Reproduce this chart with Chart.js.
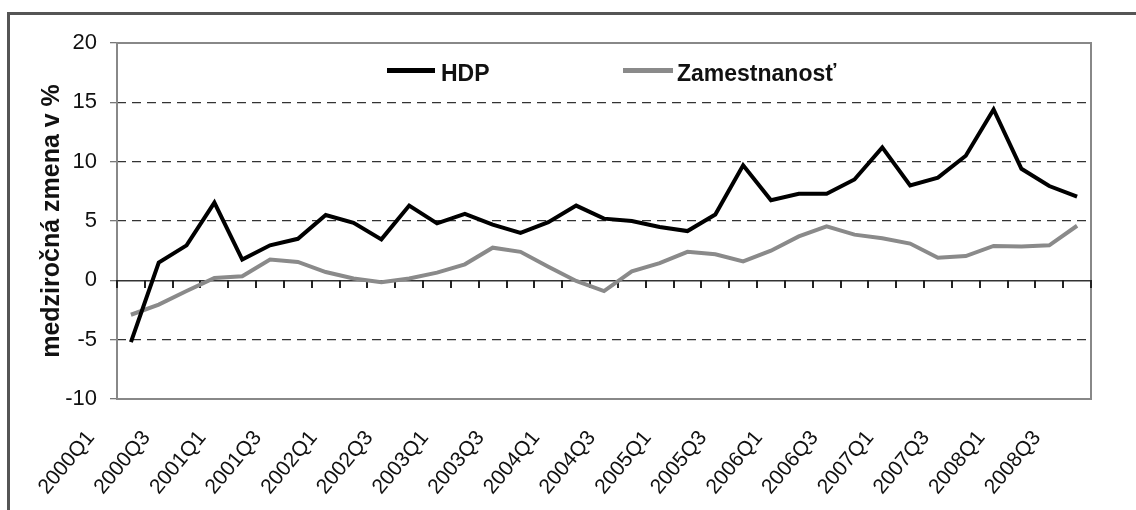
<!DOCTYPE html>
<html>
<head>
<meta charset="utf-8">
<script src="https://cdn.jsdelivr.net/npm/chart.js@4.4.1/dist/chart.umd.min.js"></script>
<style>
    html, body { margin: 0; padding: 0; background: #fff; overflow: hidden; }
    #wrap { position: relative; width: 1136px; height: 510px; }
    #frame { position: absolute; left: 7px; top: 12px; width: 1160px; height: 520px;
             border-left: 3px solid #555; border-top: 3px solid #555; box-sizing: border-box; }
    #chart { position: absolute; left: 0; top: 0; }
    .key { position: absolute; height: 5px; }
    .keyText { position: absolute; font: bold 23px "Liberation Sans", Arial, sans-serif;
               line-height: 23px; color: #111; white-space: nowrap; }
</style>
</head>
<body>
<div id="wrap">
    <div id="frame"></div>
    <canvas id="chart" width="1136" height="510"></canvas>
    <div class="key" id="keyHdp" style="left:387px;top:68px;width:48px;background:#000;"></div>
    <div class="keyText" id="labelHdp" style="left:441px;top:62px;"></div>
    <div class="key" id="keyEmp" style="left:623px;top:68px;width:50px;background:#8a8a8a;"></div>
    <div class="keyText" id="labelEmp" style="left:677px;top:62px;"></div>
</div>
<script>
// === Data ===
const quarters = [
    "2000Q1", "2000Q2", "2000Q3", "2000Q4",
    "2001Q1", "2001Q2", "2001Q3", "2001Q4",
    "2002Q1", "2002Q2", "2002Q3", "2002Q4",
    "2003Q1", "2003Q2", "2003Q3", "2003Q4",
    "2004Q1", "2004Q2", "2004Q3", "2004Q4",
    "2005Q1", "2005Q2", "2005Q3", "2005Q4",
    "2006Q1", "2006Q2", "2006Q3", "2006Q4",
    "2007Q1", "2007Q2", "2007Q3", "2007Q4",
    "2008Q1", "2008Q2", "2008Q3"
];

const hdpValues = [
    -5.2, 1.5, 2.95, 6.55,
    1.75, 2.95, 3.5, 5.5,
    4.85, 3.45, 6.3, 4.8,
    5.6, 4.7, 4.0, 4.9,
    6.3, 5.2, 5.0, 4.5,
    4.15, 5.55, 9.7, 6.75,
    7.3, 7.3, 8.5, 11.2,
    8.0, 8.65, 10.5, 14.4,
    9.4, 7.95, 7.05
];

const employmentValues = [
    -2.9, -2.05, -0.9, 0.2,
    0.35, 1.75, 1.55, 0.7,
    0.15, -0.15, 0.15, 0.65,
    1.35, 2.75, 2.4, 1.15,
    -0.05, -0.9, 0.75, 1.45,
    2.4, 2.2, 1.6, 2.5,
    3.7, 4.55, 3.85, 3.55,
    3.1, 1.9, 2.05, 2.9,
    2.85, 2.95, 4.6
];

const yTicks = [-10, -5, 0, 5, 10, 15, 20];
const dashedLevels = [-5, 5, 10, 15];

const seriesNames = ["HDP", "Zamestnanosť"];
const axisTitle = "medziročná zmena v %";

const FONT = '"Liberation Sans", Arial, sans-serif';

// === Legend (HTML) ===
document.getElementById("labelHdp").textContent = seriesNames[0];
document.getElementById("labelEmp").textContent = seriesNames[1];

// plot area frame (Excel style box)
const plotBorder = {
    id: "plotBorder",
    beforeDatasetsDraw(chart) {
        const { ctx, chartArea: a } = chart;
        ctx.save();
        ctx.strokeStyle = "#888";
        ctx.lineWidth = 2;
        ctx.strokeRect(a.left, a.top, a.right - a.left, a.bottom - a.top);
        ctx.restore();
    }
};

// small tick marks hanging under the zero line, between categories
const zeroTicks = {
    id: "zeroTicks",
    beforeDatasetsDraw(chart) {
        const { ctx } = chart;
        const xs = chart.scales.x;
        const y0 = Math.round(chart.scales.y.getPixelForValue(0));
        const step = xs.getPixelForValue(1) - xs.getPixelForValue(0);
        ctx.save();
        ctx.strokeStyle = "#222";
        ctx.lineWidth = 2;
        ctx.beginPath();
        for (let i = 0; i <= quarters.length; i++) {
            const px = Math.round(xs.getPixelForValue(i) - step / 2);
            ctx.moveTo(px, y0);
            ctx.lineTo(px, y0 + 8);
        }
        ctx.stroke();
        ctx.restore();
    }
};

new Chart(document.getElementById("chart"), {
    type: "line",
    data: {
        labels: quarters,
        datasets: [
            {
                label: seriesNames[0],
                data: hdpValues,
                borderColor: "#000",
                borderWidth: 4,
                pointRadius: 0,
                tension: 0
            },
            {
                label: seriesNames[1],
                data: employmentValues,
                borderColor: "#8a8a8a",
                borderWidth: 4,
                pointRadius: 0,
                tension: 0
            }
        ]
    },
    options: {
        responsive: false,
        animation: false,
        layout: { padding: { left: 30, top: 43, right: 45, bottom: 0 } },
        plugins: {
            legend: { display: false },
            tooltip: { enabled: false }
        },
        scales: {
            x: {
                type: "category",
                position: "bottom",
                offset: true,
                grid: { display: false, drawTicks: false },
                border: { display: false },
                ticks: {
                    autoSkip: false,
                    maxRotation: 50,
                    minRotation: 50,
                    padding: 27,
                    labelOffset: -40,
                    color: "#111",
                    font: { family: FONT, size: 21 },
                    callback: (v, i) => (i % 2 === 0 ? quarters[i] : "")
                },
                afterFit: s => { s.height = 111; }
            },
            zero: {
                type: "category",
                axis: "x",
                position: { y: 0 },
                offset: true,
                grid: { display: false },
                border: { display: true, color: "#333", width: 1.5 },
                ticks: { display: false }
            },
            y: {
                min: yTicks[0],
                max: yTicks[yTicks.length - 1],
                afterBuildTicks: s => { s.ticks = yTicks.map(v => ({ value: v })); },
                border: { display: false, dash: [9, 6] },
                grid: {
                    color: c => (c.tick && dashedLevels.includes(c.tick.value) ? "#333" : "transparent"),
                    lineWidth: 1.3,
                    tickBorderDash: [],
                    tickColor: "#777",
                    tickLength: 7
                },
                ticks: {
                    padding: 13,
                    color: "#111",
                    font: { family: FONT, size: 22 }
                },
                title: {
                    display: true,
                    text: axisTitle,
                    color: "#111",
                    font: { family: FONT, size: 25, weight: "bold" },
                    padding: { top: 7, bottom: 0 }
                },
                afterFit: s => { s.width = 87; }
            }
        }
    },
    plugins: [plotBorder, zeroTicks]
});
</script>
</body>
</html>
